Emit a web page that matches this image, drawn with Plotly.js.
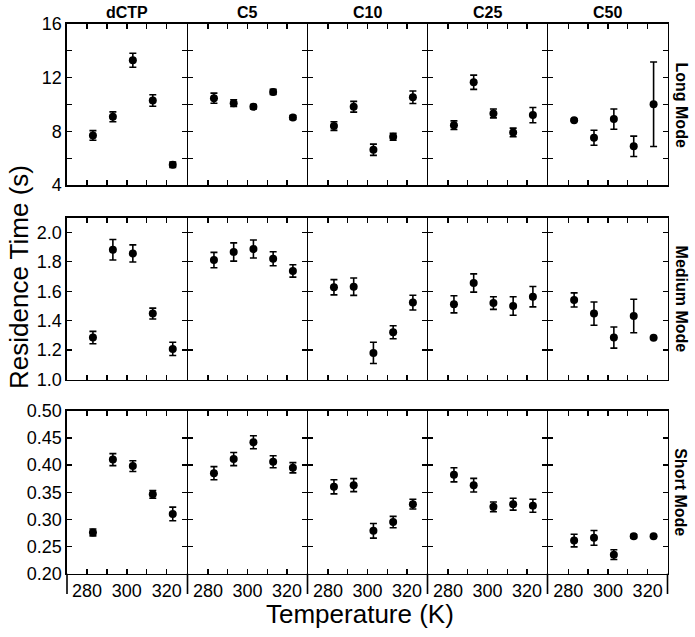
<!DOCTYPE html>
<html>
<head>
<meta charset="utf-8">
<script src="https://cdn.plot.ly/plotly-3.0.1.min.js"></script>
<style>html,body{margin:0;padding:0;background:#fff;}</style>
</head>
<body>
<div id="chart" style="width:695px;height:637px;"></div>
<script>
// ---- data ----
const temps = [283, 293, 303, 313, 323];
const columns = ['dCTP', 'C5', 'C10', 'C25', 'C50'];
const modes = ['Long Mode', 'Medium Mode', 'Short Mode'];

const longMean = [
  [7.69, 9.08, 13.30, 10.30, 5.51],
  [10.47, 10.10, 9.83, 10.94, 9.03],
  [8.39, 9.83, 6.63, 7.59, 10.54],
  [8.46, 11.66, 9.33, 7.92, 9.21],
  [8.83, 7.52, 8.91, 6.88, 10.02]
];
const longErr = [
  [0.36, 0.37, 0.52, 0.43, 0.20],
  [0.38, 0.25, 0.17, 0.20, 0.15],
  [0.32, 0.40, 0.42, 0.26, 0.47],
  [0.32, 0.53, 0.33, 0.32, 0.57],
  [0.08, 0.56, 0.76, 0.76, 3.15]
];
const mediumMean = [
  [1.285, 1.882, 1.857, 1.448, 1.208],
  [1.812, 1.867, 1.887, 1.821, 1.738],
  [1.627, 1.631, 1.181, 1.321, 1.523],
  [1.511, 1.656, 1.520, 1.500, 1.563],
  [1.541, 1.448, 1.285, 1.432, 1.283]
];
const mediumErr = [
  [0.042, 0.070, 0.058, 0.037, 0.045],
  [0.052, 0.062, 0.061, 0.048, 0.042],
  [0.052, 0.059, 0.072, 0.044, 0.050],
  [0.058, 0.062, 0.043, 0.063, 0.069],
  [0.048, 0.079, 0.072, 0.114, 0.0]
];
const shortMean = [
  [0.276, 0.410, 0.398, 0.346, 0.310],
  [0.385, 0.411, 0.442, 0.406, 0.395],
  [0.360, 0.363, 0.279, 0.295, 0.328],
  [0.382, 0.363, 0.323, 0.328, 0.325],
  [0.261, 0.266, 0.235, 0.269, 0.269]
];
const shortErr = [
  [0.0064, 0.011, 0.010, 0.007, 0.0125],
  [0.012, 0.012, 0.012, 0.011, 0.0095],
  [0.013, 0.012, 0.0135, 0.0105, 0.009],
  [0.013, 0.0125, 0.009, 0.011, 0.012],
  [0.0117, 0.0135, 0.009, 0.003, 0.0]
];

const xTickVals = [280, 290, 300, 310, 320];
const xTickText = ['280', '', '300', '', '320'];
const longTickVals = [4, 6, 8, 10, 12, 14, 16];
const longTickText = ['4', '', '8', '', '12', '', '16'];
const mediumTickVals = [1.0, 1.2, 1.4, 1.6, 1.8, 2.0];
const mediumTickText = ['1.0', '1.2', '1.4', '1.6', '1.8', '2.0'];
const shortTickVals = [0.20, 0.25, 0.30, 0.35, 0.40, 0.45, 0.50];
const shortTickText = ['0.20', '0.25', '0.30', '0.35', '0.40', '0.45', '0.50'];

// ---- layout geometry (pixels) ----
const W = 695, H = 637;
const colEdges = [67, 187.5, 307.5, 427.5, 547.5, 667.5];
const rowPix = [[24, 185], [217.7, 379.5], [410.7, 573.7]];
const yRanges = [[4, 16], [1.0, 2.1], [0.20, 0.50]];
const xRange = [270, 330];
const LW = 1.6;

const means = [longMean, mediumMean, shortMean];
const errs = [longErr, mediumErr, shortErr];
const yTV = [longTickVals, mediumTickVals, shortTickVals];
const yTT = [longTickText, mediumTickText, shortTickText];

const FONT = 'Liberation Sans, Arial, Helvetica, sans-serif';
const traces = [];
const layout = {
  width: W, height: H,
  margin: {l: 0, r: 0, t: 0, b: 0, pad: 0},
  paper_bgcolor: '#fff', plot_bgcolor: '#fff',
  showlegend: false,
  font: {family: FONT, color: '#000'},
  annotations: [], shapes: []
};

for (let r = 0; r < 3; r++) {
  for (let c = 0; c < 5; c++) {
    const k = r * 5 + c + 1;
    const xn = k === 1 ? 'xaxis' : 'xaxis' + k;
    const yn = k === 1 ? 'yaxis' : 'yaxis' + k;
    const xr = k === 1 ? 'x' : 'x' + k;
    const yr = k === 1 ? 'y' : 'y' + k;
    traces.push({
      type: 'scatter', mode: 'markers',
      x: temps, y: means[r][c],
      xaxis: xr, yaxis: yr,
      marker: {color: '#000', size: 8},
      error_y: {type: 'data', array: errs[r][c], visible: true, color: '#000', thickness: 1.6, width: 3.5}
    });
    const common = {
      showline: true, linecolor: '#000', linewidth: LW, mirror: 'ticks',
      ticks: 'inside', ticklen: 5, tickwidth: 1.3, tickcolor: '#000',
      showgrid: false, zeroline: false, fixedrange: true,
      tickfont: {family: FONT, size: 18, color: '#000'}
    };
    const left = colEdges[c] + (c > 0 ? LW / 2 : 0);
    const right = colEdges[c + 1] - (c < 4 ? LW / 2 : 0);
    layout[xn] = Object.assign({}, common, {
      domain: [left / W, right / W],
      range: xRange, anchor: yr,
      tickmode: 'array', tickvals: xTickVals, ticktext: xTickText,
      showticklabels: r === 2
    });
    layout[yn] = Object.assign({}, common, {
      domain: [1 - rowPix[r][1] / H, 1 - rowPix[r][0] / H],
      range: yRanges[r], anchor: xr,
      tickmode: 'array', tickvals: yTV[r], ticktext: yTT[r],
      showticklabels: c === 0
    });
  }
}

// column titles
for (let c = 0; c < 5; c++) {
  layout.annotations.push({
    xref: 'paper', yref: 'paper',
    x: (colEdges[c] + colEdges[c + 1]) / 2 / W, y: 1 - 12 / H,
    xanchor: 'center', yanchor: 'middle', showarrow: false,
    text: '<b>' + columns[c] + '</b>',
    font: {family: FONT, size: 16, color: '#000'}
  });
}
// row labels
for (let r = 0; r < 3; r++) {
  layout.annotations.push({
    xref: 'paper', yref: 'paper',
    x: 681 / W, y: 1 - (rowPix[r][0] + rowPix[r][1]) / 2 / H,
    xanchor: 'center', yanchor: 'middle', showarrow: false, textangle: 90,
    text: '<b>' + modes[r] + '</b>',
    font: {family: FONT, size: 16, color: '#000'}
  });
}
// axis titles
layout.annotations.push({
  xref: 'paper', yref: 'paper', x: 19 / W, y: 1 - 277 / H,
  xanchor: 'center', yanchor: 'middle', showarrow: false, textangle: -90,
  text: 'Residence Time (s)', font: {family: FONT, size: 26, color: '#000'}
});
layout.annotations.push({
  xref: 'paper', yref: 'paper', x: 360 / W, y: 1 - 614 / H,
  xanchor: 'center', yanchor: 'middle', showarrow: false,
  text: 'Temperature (K)', font: {family: FONT, size: 26, color: '#000'}
});
// separators below bottom row
for (let c = 0; c < 6; c++) {
  layout.shapes.push({
    type: 'line', xref: 'paper', yref: 'paper',
    x0: colEdges[c] / W, x1: colEdges[c] / W,
    y0: 1 - 573.7 / H, y1: 1 - 594 / H,
    line: {color: '#000', width: LW}
  });
}

Plotly.newPlot('chart', traces, layout, {staticPlot: true, displayModeBar: false});
</script>
</body>
</html>
